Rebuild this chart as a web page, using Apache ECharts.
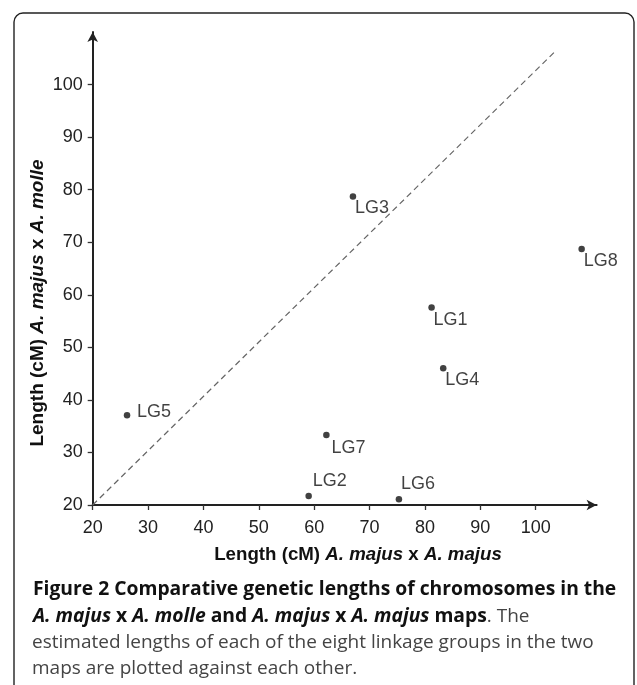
<!DOCTYPE html>
<html>
<head>
<meta charset="utf-8">
<script src="https://cdn.jsdelivr.net/npm/echarts@6/dist/echarts.min.js"></script>
<style>
html,body{margin:0;padding:0;background:#fff;}
#chart{width:637px;height:685px;}
</style>
</head>
<body>
<div id="chart"></div>
<script>
// ---- data ----
const groups = ['LG1', 'LG2', 'LG3', 'LG4', 'LG5', 'LG6', 'LG7', 'LG8'];
const lengthMajusMajus = [81.2, 59.0, 67.0, 83.3, 26.2, 75.3, 62.2, 108.3];
const lengthMajusMolle = [57.6, 21.7, 78.7, 46.0, 37.1, 21.1, 33.3, 68.7];
const xTicks = [20, 30, 40, 50, 60, 70, 80, 90, 100];
const yTicks = [20, 30, 40, 50, 60, 70, 80, 90, 100];
const diagonalX = [20, 103.8];
const diagonalY = [20, 106.6];

// ---- label placement (style, kept apart from data) ----
const labelOffset = {
  LG1: [2, 13], LG2: [4, -15], LG3: [2, 12], LG4: [2, 12],
  LG5: [10, -3], LG6: [2, -15], LG7: [5, 13], LG8: [2, 12]
};

const points = groups.map((g, i) => ({
  name: g,
  value: [lengthMajusMajus[i], lengthMajusMolle[i]],
  label: { offset: labelOffset[g] }
}));
const diagonal = diagonalX.map((x, i) => [x, diagonalY[i]]);

const chart = echarts.init(document.getElementById('chart'), null, { renderer: 'canvas' });
const axisFont = 'Liberation Sans, Arial, sans-serif';
const capFont = '"Open Sans", "DejaVu Sans", sans-serif';

const option = {
  backgroundColor: '#fff',
  animation: false,
  grid: { left: 92.7, right: 40.4, top: 32, bottom: 180 },
  xAxis: {
    type: 'value', min: 20, max: 111, interval: 10,
    splitLine: { show: false },
    axisLine: { show: true, onZero: false, symbol: ['none', 'arrow'], symbolSize: [8, 10],
      lineStyle: { color: '#222', width: 2 } },
    axisTick: { show: true, length: 5, customValues: xTicks, lineStyle: { color: '#333', width: 1.3 } },
    axisLabel: { customValues: xTicks, margin: 14, color: '#222', fontSize: 18, fontFamily: axisFont }
  },
  yAxis: {
    type: 'value', min: 20, max: 110, interval: 10,
    splitLine: { show: false },
    axisLine: { show: true, onZero: false, symbol: ['none', 'arrow'], symbolSize: [8, 10],
      lineStyle: { color: '#222', width: 2 } },
    axisTick: { show: true, length: 5, customValues: yTicks, lineStyle: { color: '#333', width: 1.3 } },
    axisLabel: { customValues: yTicks, margin: 10, color: '#222', fontSize: 18, fontFamily: axisFont }
  },
  series: [
    {
      type: 'line', data: diagonal, symbol: 'none', silent: true,
      lineStyle: { color: '#666', width: 1.2, type: [6, 4] }, z: 1
    },
    {
      type: 'scatter', data: points, symbol: 'circle', symbolSize: 6.5,
      itemStyle: { color: '#111' }, z: 3,
      label: {
        show: true, position: 'inside', align: 'left', verticalAlign: 'middle',
        formatter: p => p.name, color: '#111', fontSize: 18, fontFamily: axisFont
      }
    }
  ],
  graphic: [
    { type: 'rect', z: 0, shape: { x: 14, y: 13, width: 620, height: 720, r: 9 },
      style: { fill: 'none', stroke: '#222', lineWidth: 1.4 } },
    { type: 'text', x: 358, y: 555, z: 10,
      style: {
        text: '{b|Length (cM) }{bi|A. majus}{b| x }{bi|A. majus}',
        align: 'center', verticalAlign: 'middle',
        rich: {
          b: { fontFamily: axisFont, fontWeight: 'bold', fontSize: 18.7, fill: '#111' },
          bi: { fontFamily: axisFont, fontWeight: 'bold', fontStyle: 'italic', fontSize: 18.7, fill: '#111' }
        }
      } },
    { type: 'text', x: 38, y: 303, rotation: Math.PI / 2, z: 10,
      style: {
        text: '{b|Length (cM) }{bi|A. majus}{b| x }{bi|A. molle}',
        align: 'center', verticalAlign: 'middle',
        rich: {
          b: { fontFamily: axisFont, fontWeight: 'bold', fontSize: 19, fill: '#111' },
          bi: { fontFamily: axisFont, fontWeight: 'bold', fontStyle: 'italic', fontSize: 19, fill: '#111' }
        }
      } },
    { type: 'text', x: 33, y: 590, z: 10,
      style: { text: 'Figure 2 Comparative genetic lengths of chromosomes in the',
        fontFamily: capFont, fontWeight: 'bold', fontSize: 19.3, fill: '#111', verticalAlign: 'middle' } },
    { type: 'text', x: 33, y: 617, z: 10,
      style: {
        text: '{bi|A. majus}{b| x }{bi|A. molle}{b| and }{bi|A. majus}{b| x }{bi|A. majus}{b| maps}{n|. The}',
        verticalAlign: 'middle',
        rich: {
          b: { fontFamily: capFont, fontWeight: 'bold', fontSize: 19.3, fill: '#111' },
          bi: { fontFamily: capFont, fontWeight: 'bold', fontStyle: 'italic', fontSize: 19.3, fill: '#111' },
          n: { fontFamily: capFont, fontSize: 19, fill: '#444' }
        }
      } },
    { type: 'text', x: 32, y: 643, z: 10,
      style: { text: 'estimated lengths of each of the eight linkage groups in the two',
        fontFamily: capFont, fontSize: 19, fill: '#444', verticalAlign: 'middle' } },
    { type: 'text', x: 32, y: 669, z: 10,
      style: { text: 'maps are plotted against each other.',
        fontFamily: capFont, fontSize: 19, fill: '#444', verticalAlign: 'middle' } }
  ]
};
chart.setOption(option);
</script>
</body>
</html>
